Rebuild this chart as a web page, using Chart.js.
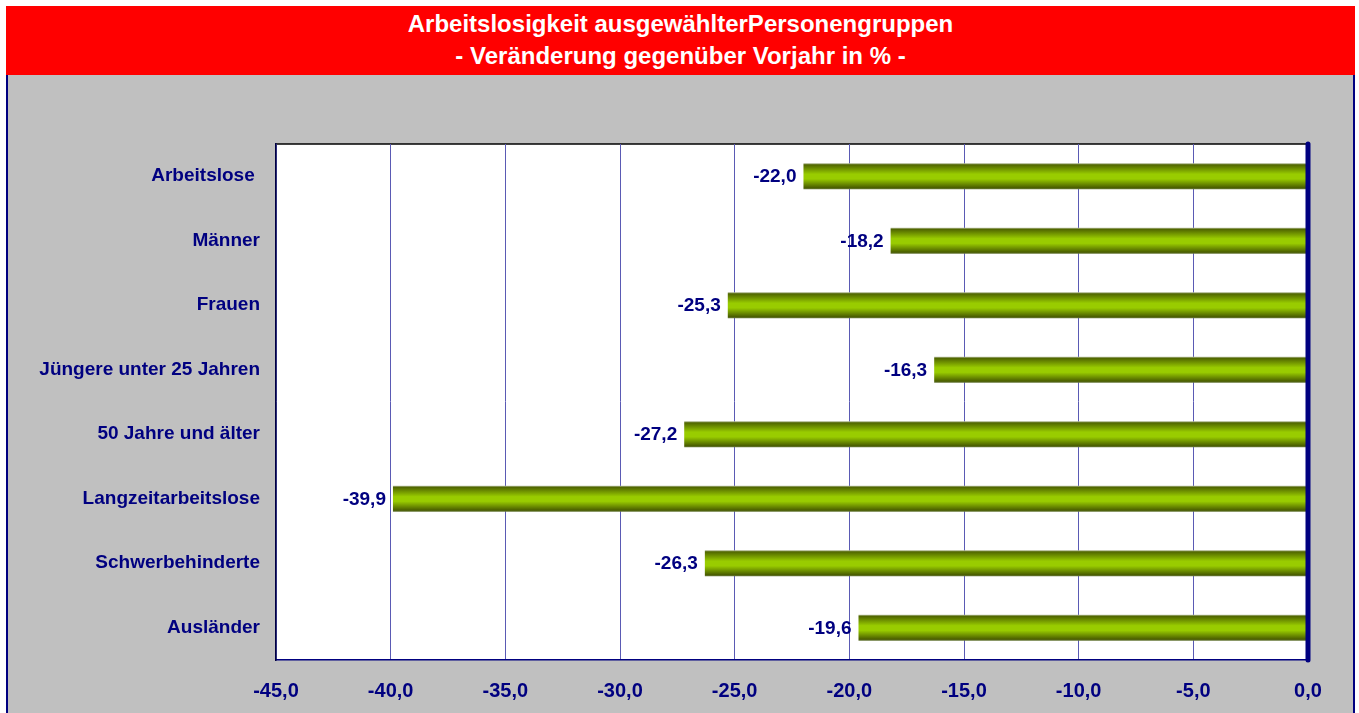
<!DOCTYPE html>
<html>
<head>
<meta charset="utf-8">
<script src="https://cdn.jsdelivr.net/npm/chart.js@4"></script>
<style>
  body { margin: 0; background: #fff; font-family: "Liberation Sans", Arial, sans-serif; }
  #title {
    position: absolute; left: 6px; top: 6px; width: 1349px; height: 69px;
    background: #ff0000; color: #fff; font-weight: bold; font-size: 24px;
    line-height: 32px; text-align: center; padding-top: 2px; box-sizing: border-box;
  }
  #panel {
    position: absolute; left: 6px; top: 75px; width: 1349px; height: 660px;
    background: #c0c0c0; border-left: 2px solid #000080; border-right: 2px solid #000080;
    box-sizing: border-box;
  }
  #wrap { position: absolute; left: 0; top: 0; width: 1359px; height: 713px; }
</style>
</head>
<body>
<div id="title">Arbeitslosigkeit ausgewählterPersonengruppen<br>- Veränderung gegenüber Vorjahr in % -</div>
<div id="panel"></div>
<div id="wrap"><canvas id="chart"></canvas></div>
<script>
// data
const groups = ["Arbeitslose ", "Männer", "Frauen", "Jüngere unter 25 Jahren", "50 Jahre und älter", "Langzeitarbeitslose", "Schwerbehinderte", "Ausländer"];
const changes = [-22.0, -18.2, -25.3, -16.3, -27.2, -39.9, -26.3, -19.6];
const xMin = -45, xMax = 0, xStep = 5;

const navy = "#000080";
const fontFam = "'Liberation Sans', Arial, sans-serif";
const fmt = v => v.toFixed(1).replace(".", ",");

// white plot area + top frame line
const plotFrame = {
  id: "plotFrame",
  beforeDraw(chart) {
    const { ctx, chartArea: a } = chart;
    ctx.save();
    ctx.fillStyle = "#fff";
    ctx.fillRect(a.left, a.top, a.right - a.left, a.bottom - a.top);
    ctx.strokeStyle = "#000";
    ctx.lineWidth = 1.5;
    ctx.beginPath();
    ctx.moveTo(a.left, a.top);
    ctx.lineTo(a.right, a.top);
    ctx.stroke();
    ctx.restore();
  },
  afterDatasetsDraw(chart) {
    // thick zero line drawn over the bars
    const { ctx, chartArea: a, scales } = chart;
    const x0 = scales.x.getPixelForValue(0);
    ctx.save();
    ctx.strokeStyle = navy;
    ctx.lineWidth = 5;
    ctx.lineCap = "round";
    ctx.beginPath();
    ctx.moveTo(x0, a.top);
    ctx.lineTo(x0, a.bottom);
    ctx.stroke();
    ctx.restore();
  }
};

// value labels left of each bar
const barLabels = {
  id: "barLabels",
  afterDatasetsDraw(chart) {
    const { ctx } = chart;
    const meta = chart.getDatasetMeta(0);
    ctx.save();
    ctx.font = "bold 19px " + fontFam;
    ctx.fillStyle = navy;
    ctx.textAlign = "right";
    ctx.textBaseline = "middle";
    meta.data.forEach((bar, i) => {
      ctx.fillText(fmt(changes[i]), bar.x - 7, bar.y + 1);
    });
    ctx.restore();
  }
};

function barGradient(context) {
  const chart = context.chart;
  if (!chart.chartArea) return "#99cc00";
  const yc = chart.scales.y.getPixelForValue(context.dataIndex);
  const half = 13;
  const g = chart.ctx.createLinearGradient(0, yc - half, 0, yc + half);
  g.addColorStop(0, "#b8c0a0");
  g.addColorStop(0.06, "#506600");
  g.addColorStop(0.42, "#99cc00");
  g.addColorStop(0.6, "#99cc00");
  g.addColorStop(0.94, "#4a5e00");
  g.addColorStop(1, "#6a7a40");
  return g;
}

new Chart(document.getElementById("chart"), {
  type: "bar",
  data: {
    labels: groups,
    datasets: [{
      data: changes,
      backgroundColor: barGradient,
      borderWidth: 0,
      barPercentage: 0.4,
      categoryPercentage: 1
    }]
  },
  options: {
    indexAxis: "y",
    responsive: true,
    maintainAspectRatio: false,
    animation: false,
    layout: { padding: { top: 144, right: 51, left: 0, bottom: 0 } },
    plugins: { legend: { display: false }, tooltip: { enabled: false }, title: { display: false } },
    scales: {
      x: {
        min: xMin, max: xMax,
        afterFit(scale) { scale.height = 53; },
        ticks: {
          stepSize: xStep,
          color: navy,
          padding: 19,
          font: { family: fontFam, size: 20, weight: "bold" },
          callback: v => fmt(v)
        },
        grid: {
          color: "#5a5ab4",
          lineWidth: 1,
          drawTicks: false
        },
        border: { display: true, color: navy, width: 1.5 }
      },
      y: {
        afterFit(scale) { scale.width = 276; },
        ticks: {
          color: navy,
          padding: 16,
          font: { family: fontFam, size: 19, weight: "bold" }
        },
        grid: { display: false, drawTicks: false },
        border: { display: true, color: "#000040", width: 1.5 }
      }
    }
  },
  plugins: [plotFrame, barLabels]
});
</script>
</body>
</html>
